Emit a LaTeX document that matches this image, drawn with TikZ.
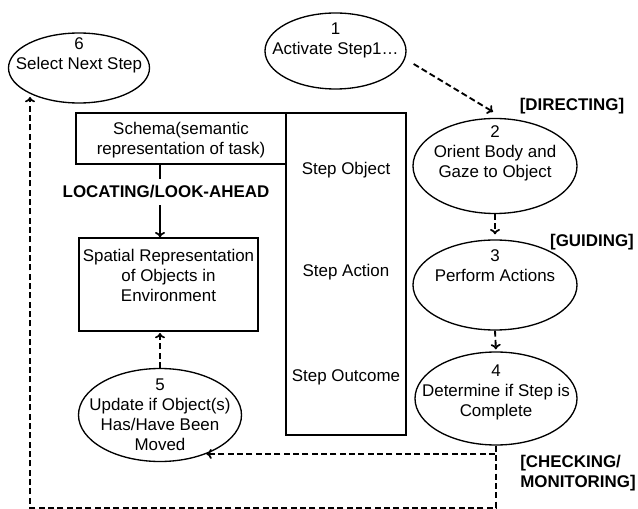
\documentclass[tikz,border=0pt]{standalone}
\usepackage{fontspec}
\setmainfont{Liberation Sans}
\usetikzlibrary{shapes.geometric}
\usetikzlibrary{calc}
\usetikzlibrary{arrows.meta}

\tikzset{
  stepoval/.style={draw, ellipse, line width=1pt, inner sep=0pt},
  steptext/.style={align=center, font=\fontsize{12.7}{15}\selectfont, inner sep=0pt},
  taskbox/.style={draw, rectangle, line width=1pt, inner sep=0pt},
  phase/.style={align=left, font=\fontsize{12.7}{15}\selectfont\bfseries, inner sep=0pt},
  tip/.style={-{To[length=4pt, width=7.5pt, line width=1.3pt]}},
  flow/.style={tip, line width=1.4pt, dash pattern=on 4.5pt off 2.5pt},
}

\begin{document}
\begin{tikzpicture}[x=0.75pt, y=-0.75pt]
  \useasboundingbox (0,0) rectangle (638,509);
  \node [stepoval, minimum width=105.75pt, minimum height=52.5pt] (e6) at (79,68) {};
  \node [steptext] at ($ (e6)+(0,-13) $) {6\\Select Next Step};
  \node [stepoval, minimum width=105.75pt, minimum height=57pt] (e1) at (335.5,51) {};
  \node [steptext] at ($ (e1)+(0,-11) $) {1\\Activate Step1\ldots};
  \node [stepoval, minimum width=123pt, minimum height=71.25pt] (e2) at (495,166) {};
  \node [steptext] at ($ (e2)+(0,-13) $) {2\\Orient Body and\\Gaze to Object};
  \node [stepoval, minimum width=123pt, minimum height=67.5pt] (e3) at (495,285) {};
  \node [steptext] at ($ (e3)+(0,-19) $) {3\\Perform Actions};
  \node [stepoval, minimum width=121.5pt, minimum height=69.75pt] (e4) at (496,398.5) {};
  \node [steptext] at ($ (e4)+(0,-6) $) {4\\Determine if Step is\\Complete};
  \node [stepoval, minimum width=122.25pt, minimum height=69.75pt] (e5) at (160,415) {};
  \node [steptext] at (e5) {5\\Update if Object(s)\\Has/Have Been\\Moved};

  \node [taskbox, minimum width=157.5pt, minimum height=38.25pt] (schema) at (181,138.5) {};
  \node [steptext] at ($ (schema)+(0,1.5) $) {Schema(semantic\\representation of task)};
  \node [taskbox, minimum width=90pt, minimum height=241.5pt] (steps) at (346,274) {};
  \node [steptext] at ($ (steps.north)+(0,58) $) {Step Object};
  \node [steptext] at ($ (steps.north)+(0,160) $) {Step Action};
  \node [steptext] at ($ (steps.north)+(0,265) $) {Step Outcome};
  \node [taskbox, minimum width=134.25pt, minimum height=69.75pt] (spatial) at (168.5,284.5) {};
  \node [steptext] at ($ (spatial)+(0,-9.5) $) {Spatial Representation\\of Objects in\\Environment};

  \coordinate (lk) at (160,0);
  \node [phase, inner ysep=5pt] (lookahead) at (166,192) {LOCATING/LOOK-AHEAD};
  \draw [line width=1.2pt] (schema.south -| lk) -- (lookahead.north -| lk);
  \draw [tip, line width=1.2pt] (lookahead.south -| lk) -- (spatial.north -| lk);

  \node [phase] (directing) at (572,106) {[DIRECTING]};
  \node [phase] (guiding) at (592,242) {[GUIDING]};
  \node [phase, anchor=west] (checking) at (520,473) {[CHECKING/\\MONITORING]};

  \draw [flow] ($ (e1.east)+(7,13) $) -- ($ (e2.north)+(-2,-6) $);
  \draw [flow, shorten >=3.75pt] (e2.south) -- (e3.north);
  \draw [flow, shorten >=1.5pt] (e3.south) -- (e4.north);
  \draw [flow, shorten >=1pt] (e5.north) -- (spatial.south -| e5.north);
  \draw [flow] (e4.south) |- (e5.-40);
  \draw [flow] (e4.south) -- ++(0,62) -| ($ (e6)+(-49,29) $);
\end{tikzpicture}
\end{document}
